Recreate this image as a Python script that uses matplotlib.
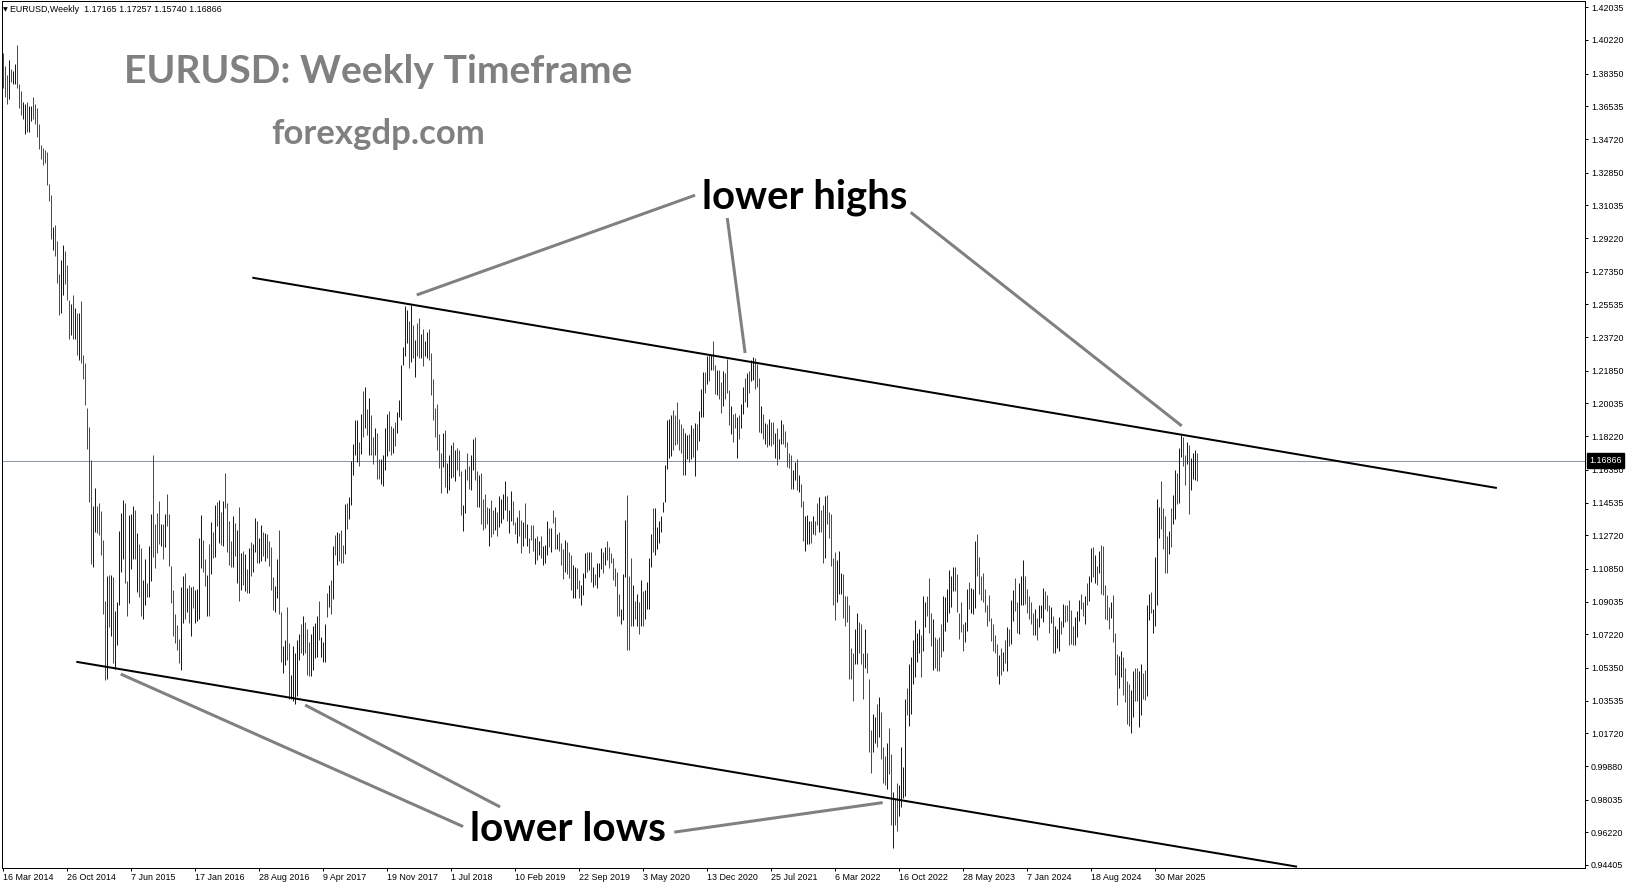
import matplotlib
matplotlib.use("Agg")
import matplotlib.pyplot as plt
import numpy as np

# weekly EURUSD bars, first bar = week of 16 Mar 2014
high = [
    1.3949, 1.3876, 1.3827, 1.3912, 1.3863, 1.3851, 1.3888, 1.3993, 1.3778, 1.3741,
    1.3680, 1.3668, 1.3680, 1.3656, 1.3656, 1.3705, 1.3668, 1.3643, 1.3558, 1.3441,
    1.3423, 1.3411, 1.3399, 1.3221, 1.3162, 1.2983, 1.2996, 1.2903, 1.2722, 1.2800,
    1.2886, 1.2849, 1.2771, 1.2580, 1.2556, 1.2605, 1.2536, 1.2507, 1.2507, 1.2575,
    1.2275, 1.2226, 1.1981, 1.1871, 1.1688, 1.1432, 1.1534, 1.1432, 1.1451, 1.1407,
    1.1248, 1.0906, 1.1045, 1.1053, 1.1053, 1.1041, 1.0850, 1.0899, 1.1297, 1.1395,
    1.1468, 1.1451, 1.1016, 1.1383, 1.1388, 1.1436, 1.1412, 1.1285, 1.1224, 1.1199,
    1.1021, 1.1138, 1.1004, 1.1212, 1.1388, 1.1720, 1.1334, 1.1395, 1.1461, 1.1334,
    1.1334, 1.1388, 1.1500, 1.1388, 1.1102, 1.0967, 1.0833, 1.0772, 1.0693, 1.0987,
    1.1045, 1.1060, 1.0979, 1.0996, 1.0987, 1.0992, 1.0967, 1.0972, 1.1255, 1.1383,
    1.1248, 1.1138, 1.1053, 1.1224,
    1.1344, 1.1290, 1.1442, 1.1457, 1.1466, 1.1400, 1.1461, 1.1615, 1.1449, 1.1351,
    1.1241, 1.1381, 1.1339, 1.1303, 1.1430, 1.1173, 1.1185, 1.1168, 1.1083, 1.1200,
    1.1234, 1.1222, 1.1369, 1.1351, 1.1259, 1.1327, 1.1290, 1.1283, 1.1278, 1.1241,
    1.1205, 1.1039, 1.0992, 1.1139, 1.1303, 1.0843, 1.0655, 1.0692, 1.0875, 1.0672,
    1.0496, 1.0655, 1.0618, 1.0692, 1.0721, 1.0777, 1.0826, 1.0789, 1.0753, 1.0679,
    1.0721, 1.0765, 1.0784, 1.0826, 1.0907, 1.0704, 1.0679, 1.0777, 1.0953, 1.0997,
    1.1021, 1.1210, 1.1271, 1.1290, 1.1283, 1.1303, 1.1217, 1.1444, 1.1449, 1.1486,
    1.1686, 1.1779, 1.1914, 1.1914, 1.1791, 1.1943, 1.2072, 1.2097, 1.1975, 1.2036,
    1.1938, 1.1816, 1.1865, 1.1840, 1.1694, 1.1694, 1.1718, 1.1865, 1.1943, 1.1962,
    1.1877, 1.1870, 1.1901, 1.1958, 1.2024, 1.2219, 1.2317, 1.2542, 1.2525, 1.2463,
    1.2549, 1.2439, 1.2358, 1.2451, 1.2476, 1.2390, 1.2415, 1.2353, 1.2402, 1.2415,
    1.2285, 1.2138, 1.1980, 1.1999, 1.1833, 1.1728, 1.1840, 1.1855, 1.1674, 1.1718,
    1.1772, 1.1791, 1.1745, 1.1755, 1.1747, 1.1628, 1.1442, 1.1637, 1.1730, 1.1657,
    1.1718, 1.1804, 1.1816, 1.1628, 1.1608, 1.1620, 1.1474, 1.1498, 1.1430, 1.1425,
    1.1469, 1.1413, 1.1430, 1.1400, 1.1488, 1.1474, 1.1503, 1.1571, 1.1491, 1.1413,
    1.1515, 1.1461, 1.1344, 1.1371, 1.1413, 1.1356, 1.1344, 1.1449, 1.1332, 1.1254,
    1.1327, 1.1327, 1.1254, 1.1266, 1.1241, 1.1266, 1.1212, 1.1217, 1.1351, 1.1312,
    1.1310, 1.1410, 1.1371, 1.1278, 1.1290, 1.1229, 1.1197, 1.1246, 1.1234, 1.1176,
    1.1163, 1.1107, 1.1095, 1.1088, 1.1021, 1.0997, 1.1063, 1.1173, 1.1180, 1.1180,
    1.1176, 1.1095, 1.1058, 1.1119, 1.1117, 1.1200, 1.1180, 1.1205, 1.1241, 1.1205,
    1.1171, 1.1144, 1.1088, 1.1068, 1.0948, 1.0863, 1.1058, 1.1356, 1.1493, 1.1046,
    1.1144, 1.0997, 1.0907, 1.0948, 1.0899,
    1.1021, 1.0960, 1.0965, 1.1014, 1.1144, 1.1278, 1.1425, 1.1425, 1.1320, 1.1351,
    1.1376, 1.1454, 1.1664, 1.1914, 1.1918, 1.1938, 1.1967, 1.1938, 1.2011, 1.1918,
    1.1889, 1.1865, 1.1840, 1.1828, 1.1835, 1.1884, 1.1865, 1.1894, 1.1889, 1.1962,
    1.2085, 1.2178, 1.2178, 1.2268, 1.2280, 1.2275, 1.2349, 1.2219, 1.2187, 1.2187,
    1.2121, 1.2182, 1.2170, 1.2248, 1.2080, 1.1992, 1.1943, 1.1950, 1.1926, 1.1938,
    1.1999, 1.2097, 1.2146, 1.2170, 1.2182, 1.2244, 1.2261, 1.2256, 1.2224, 1.2146,
    1.1987, 1.1943, 1.1894, 1.1889, 1.1918, 1.1901, 1.1901, 1.1840, 1.1865, 1.1804,
    1.1914, 1.1889, 1.1853, 1.1791, 1.1730, 1.1718, 1.1633, 1.1681, 1.1694, 1.1608,
    1.1559, 1.1461, 1.1381, 1.1383, 1.1351, 1.1351, 1.1381, 1.1351, 1.1449, 1.1486,
    1.1413, 1.1437, 1.1491, 1.1493, 1.1400, 1.1388, 1.1144, 1.1180, 1.1136, 1.1185,
    1.1063, 1.1058, 1.0936, 1.0936, 1.0887,
    1.0643, 1.0618, 1.0753, 1.0838, 1.0789, 1.0777, 1.0618, 1.0753, 1.0618, 1.0472,
    1.0191, 1.0281, 1.0264, 1.0337, 1.0374, 1.0288, 1.0093, 1.0044, 1.0117, 1.0203,
    1.0056, 0.9848, 0.9812, 0.9897, 0.9885, 1.0093, 0.9983, 1.0362, 1.0423, 1.0557,
    1.0594, 1.0692, 1.0802, 1.0728, 1.0753, 1.0716, 1.0936, 1.0899, 1.0936, 1.1034,
    1.0838, 1.0809, 1.0704, 1.0696, 1.0704, 1.0777, 1.0936, 1.0931, 1.0973, 1.1078,
    1.1046, 1.1095, 1.1095, 1.1058, 1.0838, 1.0899, 1.0777, 1.0789, 1.0973, 1.1014,
    1.0980, 1.0973, 1.1241, 1.1278, 1.1151, 1.1046, 1.1063, 1.0973, 1.0887, 1.0941,
    1.0814, 1.0777, 1.0716, 1.0667, 1.0606, 1.0643, 1.0623, 1.0692, 1.0760, 1.0753,
    1.0912, 1.0965, 1.1034, 1.0899, 1.1009, 1.1046, 1.1136, 1.1046, 1.0973, 1.0936,
    1.0899, 1.0838, 1.0863, 1.0814, 1.0887, 1.0887, 1.0978, 1.0960, 1.0941, 1.0887,
    1.0875, 1.0826, 1.0765, 1.0753, 1.0819,
    1.0794, 1.0892, 1.0882, 1.0887, 1.0912, 1.0855, 1.0765, 1.0819, 1.0850, 1.0912,
    1.0948, 1.0899, 1.0936, 1.1009, 1.1046, 1.1200, 1.1205, 1.1161, 1.1102, 1.1185,
    1.1217, 1.1210, 1.0997, 1.0941, 1.0875, 1.0899, 1.0941, 1.0728, 1.0611, 1.0599,
    1.0630, 1.0594, 1.0533, 1.0460, 1.0447, 1.0411, 1.0520, 1.0533, 1.0533, 1.0516,
    1.0557, 1.0508, 1.0526, 1.0887, 1.0948, 1.0955, 1.0863, 1.1151, 1.1474, 1.1430,
    1.1571, 1.1425, 1.1381, 1.1266, 1.1298, 1.1425, 1.1493, 1.1632, 1.1615, 1.1755,
    1.1828, 1.1816, 1.1718, 1.1791, 1.1772, 1.1699, 1.1730, 1.1743, 1.1726,
]

low = [
    1.3753, 1.3705, 1.3668, 1.3692, 1.3790, 1.3778, 1.3778, 1.3753, 1.3643, 1.3607,
    1.3582, 1.3502, 1.3509, 1.3509, 1.3570, 1.3582, 1.3558, 1.3485, 1.3416, 1.3362,
    1.3326, 1.3338, 1.3216, 1.3130, 1.2918, 1.2854, 1.2825, 1.2673, 1.2495, 1.2507,
    1.2605, 1.2666, 1.2580, 1.2360, 1.2385, 1.2360, 1.2360, 1.2275, 1.2243, 1.2226,
    1.2140, 1.1994, 1.1749, 1.1456, 1.1114, 1.1094, 1.1290, 1.1285, 1.1273, 1.1163,
    1.0833, 1.0466, 1.0473, 1.0760, 1.0711, 1.0564, 1.0527, 1.0662, 1.0882, 1.1065,
    1.1138, 1.1004, 1.0821, 1.0894, 1.1085, 1.1138, 1.1138, 1.0955, 1.0931, 1.0821,
    1.0808, 1.0882, 1.0931, 1.0931, 1.1016, 1.1150, 1.1089, 1.1175, 1.1224, 1.1212,
    1.1138, 1.1207, 1.1322, 1.1102, 1.0894, 1.0711, 1.0674, 1.0637, 1.0564, 1.0522,
    1.0784, 1.0808, 1.0845, 1.0784, 1.0711, 1.0869, 1.0784, 1.0796, 1.0808, 1.1089,
    1.1065, 1.0992, 1.0826, 1.0821,
    1.1058, 1.1144, 1.1151, 1.1322, 1.1229, 1.1217, 1.1210, 1.1425, 1.1180, 1.1107,
    1.1095, 1.1095, 1.1156, 1.1009, 1.0907, 1.0965, 1.0997, 1.0960, 1.0953, 1.0953,
    1.1046, 1.1070, 1.1180, 1.1119, 1.1119, 1.1131, 1.1156, 1.1127, 1.1144, 1.1102,
    1.0965, 1.0855, 1.0846, 1.0924, 1.0833, 1.0569, 1.0508, 1.0550, 1.0581, 1.0362,
    1.0362, 1.0349, 1.0337, 1.0379, 1.0577, 1.0618, 1.0606, 1.0618, 1.0496, 1.0491,
    1.0491, 1.0525, 1.0589, 1.0594, 1.0692, 1.0594, 1.0569, 1.0569, 1.0819, 1.0875,
    1.0833, 1.0916, 1.1161, 1.1107, 1.1127, 1.1119, 1.1119, 1.1168, 1.1308, 1.1364,
    1.1437, 1.1608, 1.1718, 1.1681, 1.1657, 1.1723, 1.1816, 1.1865, 1.1828, 1.1718,
    1.1718, 1.1669, 1.1718, 1.1584, 1.1584, 1.1559, 1.1547, 1.1632, 1.1713, 1.1742,
    1.1718, 1.1730, 1.1767, 1.1840, 1.1926, 1.1914, 1.2219, 1.2268, 1.2341, 1.2202,
    1.2231, 1.2256, 1.2153, 1.2268, 1.2256, 1.2256, 1.2212, 1.2268, 1.2256, 1.2244,
    1.2048, 1.1909, 1.1816, 1.1743, 1.1645, 1.1505, 1.1650, 1.1540, 1.1508, 1.1523,
    1.1591, 1.1596, 1.1571, 1.1632, 1.1601, 1.1386, 1.1298, 1.1393, 1.1581, 1.1527,
    1.1523, 1.1632, 1.1579, 1.1430, 1.1430, 1.1334, 1.1303, 1.1312, 1.1332, 1.1210,
    1.1263, 1.1278, 1.1303, 1.1266, 1.1315, 1.1339, 1.1364, 1.1413, 1.1351, 1.1286,
    1.1351, 1.1327, 1.1278, 1.1229, 1.1266, 1.1173, 1.1212, 1.1254, 1.1210, 1.1173,
    1.1246, 1.1185, 1.1112, 1.1136, 1.1161, 1.1144, 1.1107, 1.1119, 1.1161, 1.1205,
    1.1180, 1.1339, 1.1193, 1.1193, 1.1185, 1.1107, 1.1026, 1.1070, 1.1058, 1.1034,
    1.0965, 1.0924, 1.0924, 1.0973, 1.0924, 1.0882, 1.0941, 1.1034, 1.1070, 1.1078,
    1.1014, 1.0985, 1.0997, 1.0980, 1.1039, 1.1083, 1.1063, 1.1107, 1.1136, 1.1088,
    1.1119, 1.1021, 1.0990, 1.0826, 1.0826, 1.0777, 1.0802, 1.1039, 1.0635, 1.0635,
    1.0770, 1.0770, 1.0806, 1.0765, 1.0723,
    1.0765, 1.0765, 1.0809, 1.0863, 1.0863, 1.1095, 1.1176, 1.1161, 1.1193, 1.1229,
    1.1290, 1.1400, 1.1454, 1.1640, 1.1699, 1.1711, 1.1743, 1.1772, 1.1779, 1.1743,
    1.1730, 1.1608, 1.1608, 1.1694, 1.1681, 1.1694, 1.1706, 1.1601, 1.1743, 1.1796,
    1.1926, 1.1926, 1.2060, 1.2109, 1.2126, 1.2187, 1.2190, 1.2055, 1.2048, 1.2031,
    1.1950, 1.1987, 1.2031, 1.2060, 1.1884, 1.1835, 1.1791, 1.1865, 1.1699, 1.1804,
    1.1870, 1.1943, 1.2011, 1.1982, 1.2060, 1.2129, 1.2134, 1.2085, 1.2097, 1.1845,
    1.1840, 1.1804, 1.1779, 1.1762, 1.1772, 1.1767, 1.1779, 1.1699, 1.1662, 1.1694,
    1.1779, 1.1779, 1.1762, 1.1650, 1.1645, 1.1527, 1.1527, 1.1576, 1.1523, 1.1510,
    1.1430, 1.1241, 1.1185, 1.1222, 1.1222, 1.1229, 1.1278, 1.1271, 1.1327, 1.1290,
    1.1290, 1.1119, 1.1144, 1.1332, 1.1254, 1.1102, 1.0887, 1.0801, 1.0899, 1.0948,
    1.0948, 1.0814, 1.0765, 1.0789, 1.0472,
    1.0472, 1.0349, 1.0557, 1.0557, 1.0618, 1.0557, 1.0362, 1.0533, 1.0508, 1.0068,
    0.9954, 1.0068, 1.0117, 1.0093, 1.0154, 1.0027, 0.9897, 0.9885, 0.9861, 0.9946,
    0.9665, 0.9535, 0.9665, 0.9629, 0.9714, 0.9763, 0.9812, 0.9824, 1.0276, 1.0215,
    1.0281, 1.0447, 1.0484, 1.0569, 1.0618, 1.0484, 1.0630, 1.0760, 1.0826, 1.0728,
    1.0655, 1.0525, 1.0533, 1.0520, 1.0520, 1.0594, 1.0630, 1.0740, 1.0789, 1.0838,
    1.0875, 1.0960, 1.0960, 1.0843, 1.0696, 1.0736, 1.0630, 1.0679, 1.0740, 1.0863,
    1.0838, 1.0833, 1.0868, 1.1046, 1.0948, 1.0912, 1.0899, 1.0843, 1.0765, 1.0794,
    1.0687, 1.0630, 1.0618, 1.0489, 1.0447, 1.0496, 1.0520, 1.0564, 1.0520, 1.0655,
    1.0667, 1.0794, 1.0850, 1.0728, 1.0721, 1.0887, 1.0887, 1.0892, 1.0838, 1.0809,
    1.0777, 1.0716, 1.0716, 1.0692, 1.0760, 1.0814, 1.0789, 1.0863, 1.0850, 1.0728,
    1.0784, 1.0618, 1.0618, 1.0643, 1.0630,
    1.0721, 1.0760, 1.0789, 1.0794, 1.0662, 1.0667, 1.0662, 1.0662, 1.0704, 1.0794,
    1.0863, 1.0826, 1.0777, 1.0882, 1.0907, 1.1014, 1.1039, 1.1004, 1.0997, 1.1063,
    1.0948, 1.0941, 1.0809, 1.0802, 1.0753, 1.0814, 1.0679, 1.0496, 1.0330, 1.0423,
    1.0484, 1.0386, 1.0344, 1.0222, 1.0215, 1.0173, 1.0264, 1.0349, 1.0349, 1.0208,
    1.0276, 1.0362, 1.0354, 1.0379, 1.0801, 1.0838, 1.0728, 1.0770, 1.0882, 1.1259,
    1.1308, 1.1193, 1.1063, 1.1063, 1.1168, 1.1205, 1.1332, 1.1364, 1.1444, 1.1449,
    1.1706, 1.1657, 1.1552, 1.1669, 1.1388, 1.1523, 1.1584, 1.1576, 1.1574,
]

# 1 = bullish week (blue bar), 0 = bearish week (red bar)
bull = [
    0, 0, 0, 1, 0, 1, 1, 0, 0, 0,  1, 1, 0, 1, 1, 0, 0, 0, 0, 0,
    0, 0, 0, 0, 0, 1, 0, 0, 0, 1,  1, 0, 0, 0, 1, 0, 1, 0, 1, 0,
    0, 0, 0, 0, 0, 1, 1, 0, 0, 0,  0, 0, 1, 0, 1, 0, 1, 1, 1, 1,
    1, 0, 0, 1, 1, 1, 0, 1, 0, 0,  1, 1, 0, 1, 1, 0, 0, 0, 0, 1,
    0, 1, 0, 0, 0, 0, 0, 0, 0, 1,  1, 0, 1, 0, 1, 0, 1, 1, 1, 1,
    0, 0, 1, 0,
    1, 0, 1, 0, 1, 0, 1, 0, 0, 0,  0, 1, 0, 1, 0, 1, 0, 1, 0, 1,
    0, 1, 1, 0, 1, 1, 0, 1, 0, 0,  0, 0, 1, 1, 0, 0, 1, 1, 0, 0,
    1, 1, 1, 1, 1, 0, 1, 0, 0, 0,  1, 1, 1, 1, 0, 1, 1, 1, 0, 1,
    0, 1, 0, 1, 0, 0, 0, 1, 0, 1,  1, 1, 1, 1, 0, 1, 0, 1, 0, 1,
    0, 0, 1, 0, 0, 1, 1, 1, 1, 0,  0, 1, 0, 1, 1, 1, 1, 1, 1, 0,
    1, 0, 1, 0, 0, 1, 0, 1, 1, 0,
    0, 0, 0, 0, 0, 0, 1, 0, 1, 1,  1, 0, 1, 0, 0, 0, 1, 1, 0, 0,
    1, 1, 0, 0, 1, 0, 0, 0, 0, 1,  0, 0, 1, 0, 1, 1, 1, 1, 0, 1,
    1, 0, 0, 1, 0, 0, 1, 0, 1, 0,  0, 0, 1, 0, 1, 0, 1, 1, 1, 0,
    1, 0, 0, 1, 0, 0, 0, 1, 0, 0,  0, 1, 1, 0, 0, 1, 1, 1, 0, 1,
    0, 1, 0, 1, 1, 1, 0, 1, 0, 0,  0, 0, 0, 0, 0, 1, 1, 1, 0, 0,
    0, 1, 0, 1, 0,
    1, 0, 1, 1, 1, 1, 0, 1, 1, 1,  1, 1, 1, 1, 1, 1, 0, 0, 0, 0,
    0, 0, 1, 1, 0, 1, 0, 1, 0, 1,  1, 1, 0, 1, 0, 1, 0, 0, 1, 0,
    0, 1, 0, 0, 0, 1, 0, 0, 1, 0,  1, 1, 0, 1, 0, 1, 1, 0, 0, 0,
    1, 0, 1, 0, 1, 0, 0, 1, 0, 1,  1, 0, 0, 0, 0, 0, 1, 1, 0, 1,
    0, 0, 1, 1, 1, 0, 1, 0, 0, 1,  0, 0, 1, 0, 0, 0, 0, 0, 1, 1,
    1, 0, 0, 0, 0,
    0, 0, 1, 1, 0, 0, 0, 1, 0, 0,  0, 1, 1, 0, 1, 0, 0, 0, 1, 0,
    0, 1, 0, 0, 1, 1, 1, 1, 0, 1,  1, 1, 1, 1, 1, 0, 1, 1, 0, 0,
    0, 1, 0, 0, 0, 0, 1, 1, 1, 1,  1, 1, 0, 0, 0, 0, 0, 1, 1, 0,
    1, 1, 1, 0, 0, 0, 0, 0, 0, 0,  0, 0, 0, 0, 1, 0, 1, 0, 1, 0,
    1, 1, 0, 0, 1, 1, 1, 0, 0, 0,  0, 0, 1, 0, 1, 1, 1, 0, 0, 0,
    1, 0, 1, 1, 1,
    0, 1, 0, 0, 0, 0, 0, 1, 1, 1,  0, 0, 1, 0, 1, 1, 0, 1, 0, 1,
    0, 0, 0, 0, 0, 1, 0, 0, 0, 1,  1, 0, 0, 0, 0, 1, 1, 0, 0, 1,
    1, 0, 0, 1, 1, 0, 1, 1, 1, 1,  0, 0, 0, 0, 1, 0, 1, 1, 0, 1,
    1, 0, 0, 1, 0, 1, 1, 1, 0,
]

date_labels = ["16 Mar 2014", "26 Oct 2014", "7 Jun 2015", "17 Jan 2016", "28 Aug 2016",
               "9 Apr 2017", "19 Nov 2017", "1 Jul 2018", "10 Feb 2019", "22 Sep 2019",
               "3 May 2020", "13 Dec 2020", "25 Jul 2021", "6 Mar 2022", "16 Oct 2022",
               "28 May 2023", "7 Jan 2024", "18 Aug 2024", "30 Mar 2025"]
date_bars = list(range(0, 577, 32))

price_ticks = [1.42035, 1.40220, 1.38350, 1.36535, 1.34720, 1.32850, 1.31035, 1.29220,
               1.27350, 1.25535, 1.23720, 1.21850, 1.20035, 1.18220, 1.16350, 1.14535,
               1.12720, 1.10850, 1.09035, 1.07220, 1.05350, 1.03535, 1.01720, 0.99880,
               0.98035, 0.96220, 0.94405]

last_price = 1.16866
header = "EURUSD,Weekly  1.17165 1.17257 1.15740 1.16866"

# trend lines, anchored as (bar, price)
channel_top = [(124.9, 1.2701), (746.2, 1.1535)]
channel_bottom = [(36.9, 1.0568), (646.3, 0.9432)]
high_pointers = [[(345.8, 1.3160), (206.6, 1.2606)],
                 [(361.9, 1.3033), (370.8, 1.2284)],
                 [(453.6, 1.3065), (589.1, 1.1879)]]
low_pointers = [[(229.8, 0.9654), (58.6, 1.0501)],
                [(248.3, 0.9763), (150.8, 1.0329)],
                [(335.4, 0.9623), (439.6, 0.9787)]]

assert len(high) == len(low) == len(bull)

W, H = 1631, 888
PX = 72 / 100  # one pixel in points
fig = plt.figure(figsize=(W / 100, H / 100), dpi=100)
ax = fig.add_axes([2.5 / W, 1 - 867.5 / H, (1585 - 2.5) / W, (867.5 - 1.5) / H])
ax.set_xlim(-0.5, 790.75)
ax.set_ylim(0.94266, 1.42357)

x = np.arange(len(high))
colors = ["#0000e0" if b else "#ff0000" for b in bull]
bars = ax.vlines(x, low, high, colors=colors, linewidth=PX, zorder=3)
bars.set_snap(True)

ax.axhline(last_price, color="#8a97a6", linewidth=PX, zorder=2)

for p0, p1 in (channel_top, channel_bottom):
    ax.plot([p0[0], p1[0]], [p0[1], p1[1]], color="black", linewidth=2 * PX, zorder=4)
for seg in high_pointers + low_pointers:
    ax.plot([seg[0][0], seg[1][0]], [seg[0][1], seg[1][1]], color="#808080",
            linewidth=3 * PX, solid_capstyle="butt", zorder=4)

for s in ax.spines.values():
    s.set_linewidth(PX)
    s.set_color("black")

ax.yaxis.tick_right()
ax.set_yticks(price_ticks)
ax.set_yticklabels([f"{v:.5f}" for v in price_ticks])
ax.set_xticks(date_bars)
ax.set_xticklabels(date_labels)
ax.tick_params(axis="y", direction="out", length=3 * PX, width=PX, pad=2.2,
               labelsize=6.4, labelfontfamily="Liberation Sans")
ax.tick_params(axis="x", direction="out", length=3 * PX, width=PX, pad=1.5,
               labelsize=6.4, labelfontfamily="Liberation Sans")
for lab in ax.get_xticklabels():
    lab.set_horizontalalignment("left")

ax.annotate(f"{last_price:.5f}", xy=(1, last_price), xycoords=("axes fraction", "data"),
            xytext=(4.3, 0), textcoords="offset pixels", ha="left", va="center",
            color="white", fontsize=6.4, family="Liberation Sans", annotation_clip=False,
            bbox=dict(boxstyle="square,pad=0.3", fc="black", ec="black"), zorder=6)

fig.text(5 / W, 1 - 10 / H, "\u25bc", fontsize=4.5, family="DejaVu Sans",
         ha="center", va="center")
fig.text(10 / W, 1 - 10 / H, header, fontsize=6.4, family="Liberation Sans",
         ha="left", va="center")


def px_text(x0, base, s, width, color):
    t = fig.text(x0 / W, 1 - base / H, s, fontsize=28, family="Lato",
                 fontweight="bold", color=color, ha="left", va="baseline", zorder=7)
    r = fig.canvas.get_renderer()
    t.set_fontsize(28 * width / t.get_window_extent(r).width)
    return t


px_text(124, 83, "EURUSD: Weekly Timeframe", 508, "#808080")
px_text(271, 143.5, "forexgdp.com", 214, "#808080")
px_text(702, 208.5, "lower highs", 205, "black")
px_text(470, 841, "lower lows", 196, "black")

fig.savefig("out.png", dpi=100, facecolor="white")
